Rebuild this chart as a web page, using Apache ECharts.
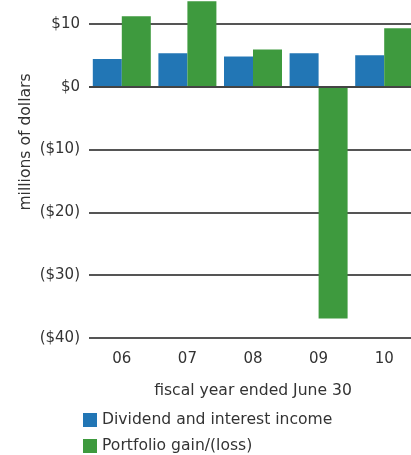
<!DOCTYPE html>
<html><head><meta charset="utf-8">
<script src="https://cdn.jsdelivr.net/npm/echarts@6/dist/echarts.min.js"></script>
<style>html,body{margin:0;padding:0;background:#fff}#c{width:411px;height:455px}</style>
</head><body><div id="c"></div>
<script>
var categories = ['06', '07', '08', '09', '10'];
var dividendIncome = [4.4, 5.3, 4.8, 5.3, 5.0];
var portfolioGain = [11.2, 13.6, 5.9, -36.9, 9.3];
var yTicks = [-40, -30, -20, -10, 0, 10, 20];
var seriesNames = ['Dividend and interest income', 'Portfolio gain/(loss)'];

var FONT = '"DejaVu Sans", sans-serif';
function fmt(v) {
  if (v === 0) return '$0';
  return v < 0 ? '($' + (-v) + ')' : '$' + v;
}
var chart = echarts.init(document.getElementById('c'), null, {renderer: 'canvas'});
chart.setOption({
  animation: false,
  backgroundColor: '#fff',
  grid: {left: 89, right: -6, top: -39, bottom: 117, containLabel: false, outerBoundsMode: 'none'},
  xAxis: {
    type: 'category',
    data: categories,
    axisLine: {show: false},
    axisTick: {show: false},
    axisLabel: {color: '#333', fontSize: 15, fontFamily: FONT, margin: 14},
    name: 'fiscal year ended June 30',
    nameLocation: 'middle',
    nameGap: 45,
    nameTextStyle: {color: '#333', fontSize: 15.6, fontFamily: FONT}
  },
  yAxis: {
    type: 'value',
    min: yTicks[0],
    max: yTicks[yTicks.length - 1],
    interval: 10,
    axisLine: {show: false},
    axisTick: {show: false},
    splitLine: {show: true, lineStyle: {color: '#555', width: 2}},
    axisLabel: {color: '#333', fontSize: 15, fontFamily: FONT, margin: 9, formatter: fmt}
  },
  legend: {
    orient: 'vertical',
    left: 83,
    top: 412,
    itemWidth: 14,
    itemHeight: 14,
    itemGap: 10,
    icon: 'rect',
    padding: 0,
    textStyle: {color: '#333', fontSize: 15.6, fontFamily: FONT, padding: [0, 0, 0, 0]},
    data: seriesNames
  },
  graphic: [{
    type: 'text',
    x: 26,
    y: 142,
    rotation: Math.PI / 2,
    style: {text: 'millions of dollars', fill: '#333', font: '15.6px ' + FONT, textAlign: 'center', textVerticalAlign: 'middle'}
  }],
  series: [{
    name: seriesNames[0],
    type: 'bar',
    data: dividendIncome,
    barWidth: 29,
    barGap: '0%',
    itemStyle: {color: '#2276b5'}
  }, {
    name: seriesNames[1],
    type: 'bar',
    data: portfolioGain,
    barWidth: 29,
    barGap: '0%',
    itemStyle: {color: '#3e9a3e'},
    markLine: {
      silent: true,
      symbol: 'none',
      label: {show: false},
      lineStyle: {color: '#444', width: 2, type: 'solid'},
      data: [{yAxis: 0}]
    }
  }]
});
</script>
</body></html>
